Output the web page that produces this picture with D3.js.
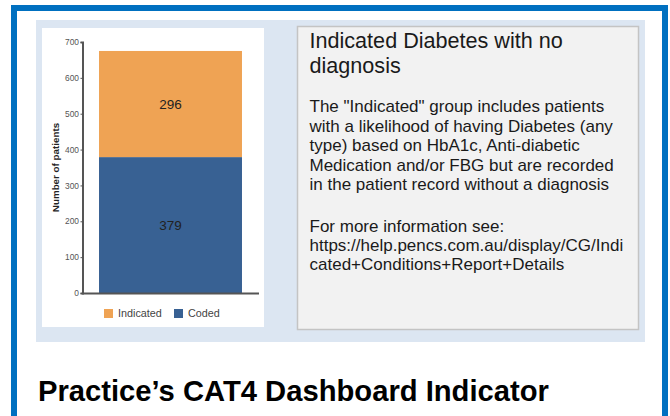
<!DOCTYPE html>
<html>
<head>
<meta charset="utf-8">
<script src="https://cdn.jsdelivr.net/npm/d3@7"></script>
<style>
  html, body { margin: 0; padding: 0; background: #fff; }
  svg { display: block; font-family: "Liberation Sans", Arial, sans-serif; }
</style>
</head>
<body>
<div id="chart"></div>
<script>
// ---- Data ----
const categories = ["All patients"];
const seriesKeys = ["Coded", "Indicated"];          // stacking order, bottom to top
const legendKeys = ["Indicated", "Coded"];
const codedValues = [379];
const indicatedValues = [296];
const yTicks = [0, 100, 200, 300, 400, 500, 600, 700];
const yAxisTitle = "Number of patients";
const seriesColors = { Indicated: "#EFA354", Coded: "#386193" };

const boxTitle = ["Indicated Diabetes with no", "diagnosis"];
const boxBody = [
  "The \"Indicated\" group includes patients",
  "with a likelihood of having Diabetes (any",
  "type) based on HbA1c, Anti-diabetic",
  "Medication and/or FBG but are recorded",
  "in the patient record without a diagnosis"
];
const boxMore = [
  "For more information see:",
  "https://help.pencs.com.au/display/CG/Indi",
  "cated+Conditions+Report+Details"
];
const heading = "Practice\u2019s CAT4 Dashboard Indicator";

// ---- Build ----
const W = 670, H = 416;
const svg = d3.select("#chart").append("svg").attr("width", W).attr("height", H);

svg.append("rect").attr("width", W).attr("height", H).attr("fill", "#fff");

// blue frame
svg.append("rect").attr("x", 14).attr("y", 8).attr("width", 651).attr("height", 440)
  .attr("fill", "none").attr("stroke", "#0070C0").attr("stroke-width", 6);

// light blue panel
svg.append("rect").attr("x", 36).attr("y", 20).attr("width", 609).attr("height", 322)
  .attr("fill", "#DCE6F2");

// white chart area
svg.append("rect").attr("x", 42).attr("y", 28).attr("width", 222).attr("height", 299)
  .attr("fill", "#fff");

// text box
svg.append("rect").attr("x", 297.5).attr("y", 26.5).attr("width", 341).attr("height", 303)
  .attr("fill", "#F2F2F2").attr("stroke", "#C4C4C4").attr("stroke-width", 1.5);

// ---- Chart ----
const rows = categories.map((c, i) => ({ cat: c, Coded: codedValues[i], Indicated: indicatedValues[i] }));
const stacked = d3.stack().keys(seriesKeys)(rows);

const y = d3.scaleLinear().domain([0, 700]).range([293, 42]);
const x = d3.scaleBand().domain(categories).range([82, 259]).paddingInner(0).paddingOuter(0.119);

const g = svg.append("g");

g.selectAll("g.series").data(stacked).join("g").attr("class", "series")
  .attr("fill", d => seriesColors[d.key])
  .selectAll("rect").data(d => d.map(v => ({ v, key: d.key })))
  .join("rect")
  .attr("x", d => x(d.v.data.cat))
  .attr("width", x.bandwidth())
  .attr("y", d => y(d.v[1]))
  .attr("height", d => y(d.v[0]) - y(d.v[1]));

// value labels
g.selectAll("g.lbl").data(stacked).join("g").attr("class", "lbl")
  .selectAll("text").data(d => d.map(v => ({ v, key: d.key })))
  .join("text")
  .attr("x", d => x(d.v.data.cat) + x.bandwidth() / 2)
  .attr("y", d => (y(d.v[0]) + y(d.v[1])) / 2)
  .attr("dy", "0.36em")
  .attr("text-anchor", "middle")
  .attr("font-size", 13.5)
  .attr("fill", "#222")
  .text(d => d.v.data[d.key]);

// y axis
const yAxis = g.append("g").attr("transform", "translate(82.5,0)")
  .call(d3.axisLeft(y).tickValues(yTicks).tickSize(2).tickPadding(1.5));
yAxis.select(".domain").attr("stroke", "#555").attr("stroke-width", 2);
yAxis.selectAll(".tick line").attr("stroke", "#555");
yAxis.selectAll(".tick text").attr("font-size", 8.4).attr("fill", "#555")
  .attr("font-family", "\"Liberation Sans\", Arial, sans-serif");

// x axis line
g.append("line").attr("x1", 82).attr("x2", 259).attr("y1", y(0) + 0.5).attr("y2", y(0) + 0.5)
  .attr("stroke", "#555").attr("stroke-width", 2);

// y axis title
g.append("text")
  .attr("transform", `translate(59,${(y(0) + y(700)) / 2}) rotate(-90)`)
  .attr("text-anchor", "middle")
  .attr("font-size", 9.8).attr("font-weight", "bold").attr("fill", "#222")
  .text(yAxisTitle);

// legend
const legendPos = { Indicated: 104, Coded: 174 };
const lg = g.selectAll("g.leg").data(legendKeys).join("g").attr("class", "leg")
  .attr("transform", d => `translate(${legendPos[d]},309)`);
lg.append("rect").attr("width", 9).attr("height", 9).attr("fill", d => seriesColors[d]);
lg.append("text").attr("x", 14).attr("y", 4.5).attr("dy", "0.36em")
  .attr("font-size", 10.8).attr("fill", "#444").text(d => d);

// ---- Text box content ----
const tb = svg.append("g").attr("fill", "#1a1a1a");
tb.selectAll("text.t").data(boxTitle).join("text").attr("class", "t")
  .attr("x", 309.5).attr("y", (d, i) => 47.7 + i * 25.6)
  .attr("font-size", 21.6).text(d => d);
tb.selectAll("text.b").data(boxBody).join("text").attr("class", "b")
  .attr("x", 309.5).attr("y", (d, i) => 112 + i * 19.6)
  .attr("font-size", 17).text(d => d);
tb.selectAll("text.m").data(boxMore).join("text").attr("class", "m")
  .attr("x", 309.5).attr("y", (d, i) => 231.5 + i * 19.4)
  .attr("font-size", 17).text(d => d);

// ---- Heading ----
svg.append("text").attr("x", 38).attr("y", 401)
  .attr("font-size", 29.2).attr("font-weight", "bold").attr("fill", "#000")
  .text(heading);
</script>
</body>
</html>
